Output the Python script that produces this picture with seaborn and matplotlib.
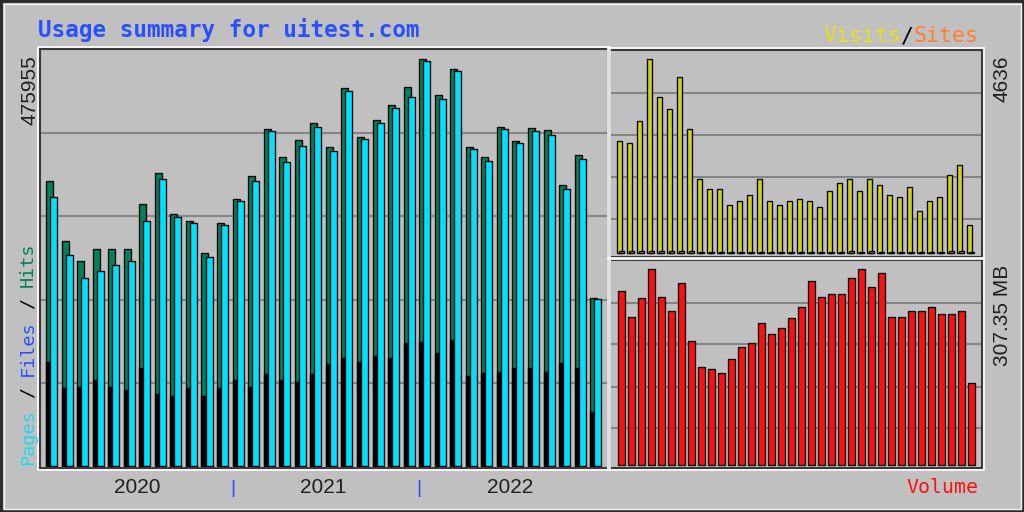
import numpy as np
import pandas as pd
import seaborn as sns
import matplotlib.pyplot as plt
from matplotlib.patches import Rectangle

# %%
# monthly data, Jan 2020 .. Dec 2022
years = ["2020", "2021", "2022"]
months = pd.period_range("2020-01", "2022-12", freq="M").astype(str)

hits = [326100, 257800, 234900, 248300, 248300, 248000, 299400, 335600, 288000, 280300, 244000, 278400,
        305500, 331800, 385600, 353500, 373000, 392400, 365300, 432100, 376800, 395900, 413000, 434000,
        465700, 424500, 454200, 365300, 353900, 388200, 372200, 386400, 384400, 321500, 355800, 191900]
pages = [308100, 241400, 214700, 223400, 230000, 234900, 280600, 328400, 285200, 277700, 239500, 275700,
         303200, 326100, 383300, 347800, 366100, 387800, 360400, 429400, 374100, 392800, 409200, 422500,
         463700, 420200, 451900, 362700, 349300, 385600, 369200, 383600, 378700, 316900, 351200, 190800]
files = [119000, 89200, 90700, 98400, 90700, 86900, 111800, 82400, 80100, 88900, 80100, 88900,
         98400, 90700, 105300, 98400, 96400, 105300, 116700, 123200, 119300, 125900, 123200, 140400,
         142200, 128900, 144200, 103000, 106100, 107900, 111800, 111800, 107900, 117500, 111800, 62100]
visits = [2581, 2535, 3039, 4453, 3589, 3314, 4048, 2856, 1710, 1481, 1481, 1114,
          1206, 1343, 1710, 1206, 1114, 1206, 1251, 1206, 1068, 1435, 1618, 1710,
          1435, 1710, 1572, 1343, 1297, 1527, 976, 1206, 1297, 1802, 2031, 656]
sites = [45, 44, 46, 48, 45, 44, 47, 42, 40, 38, 39, 37,
         38, 39, 41, 38, 37, 38, 39, 38, 37, 40, 41, 42,
         41, 42, 41, 40, 39, 41, 36, 38, 39, 42, 44, 35]
volume = [262.6, 223.4, 251.1, 295.3, 253.6, 232.5, 274.7, 186.8, 148.1, 144.6, 139.1, 159.7,
          178.2, 184.3, 214.4, 196.9, 206.0, 221.0, 238.5, 277.7, 253.6, 257.2, 257.2, 281.3,
          295.3, 268.6, 289.7, 223.4, 223.4, 232.5, 232.5, 238.5, 227.0, 227.0, 232.5, 124.0]

max_hits = 475955
max_visits = 4636
max_volume = 307.35

# %%
W, H = 1024, 512
BG = "#c0c0c0"
fig = plt.figure(figsize=(W / 100, H / 100), dpi=100, facecolor=BG)


def box(l, t, r, b):
    return [l / W, 1 - b / H, (r - l) / W, (b - t) / H]


def panel(l, t, r, b):
    # white bevel just outside the dark frame
    fig.add_artist(Rectangle(((l - 2) / W, 1 - (b + 2) / H), (r - l + 4) / W, (b - t + 4) / H,
                             transform=fig.transFigure, fill=False, ec="white", lw=1.2))
    ax = fig.add_axes(box(l, t, r, b))
    return ax


def style(ax, grid):
    ax.set_facecolor(BG)
    for s in ax.spines.values():
        s.set_color("#3a3a3a")
        s.set_linewidth(1.5)
    ax.set_xticks([])
    ax.set_yticks(grid)
    ax.tick_params(length=0, labelleft=False, labelbottom=False)
    ax.grid(axis="y", color="#858585", lw=1.5)
    ax.set_axisbelow(True)
    ax.set_xlabel("")
    ax.set_ylabel("")


x = np.arange(len(months))
bar = dict(native_scale=True, errorbar=None, saturation=1, edgecolor="black", linewidth=0.95)

# main panel: hits / files / pages
ax = panel(40, 49, 608, 468)
sns.barplot(x=x - 0.13, y=hits, width=0.45, color="#00805c", ax=ax, **bar)
sns.barplot(x=x - 0.13, y=files, width=0.45, color="black", ax=ax, **bar)
sns.barplot(x=x + 0.13, y=pages, width=0.45, color="#00e0ff", ax=ax, **bar)
ax.set_xlim(-0.74, 35.79)
ax.set_ylim(-2288, 477100)
style(ax, [0.2 * max_hits, 0.4 * max_hits, 0.6 * max_hits, 0.8 * max_hits])

for k, yr in enumerate(years):
    ax.annotate(yr, xy=(12 * k + 5.5, 19), xycoords=("data", "figure pixels"), ha="center",
                va="baseline", fontsize=15, family="Liberation Sans", color="#202020")
for k in (1, 2):
    ax.annotate("|", xy=(12 * k - 0.35, 19), xycoords=("data", "figure pixels"), ha="center",
                va="baseline", fontsize=14, family="Liberation Sans", color="#2850ff")

# visits / sites panel
ax2 = panel(610, 50, 982, 257)
sns.barplot(x=x - 0.1, y=visits, width=0.5, color="#d0d020", ax=ax2, **bar)
sns.barplot(x=x + 0.1, y=sites, width=0.5, color="#ff8000", ax=ax2, **bar)
ax2.set_xlim(-1.05, 36.15)
ax2.set_ylim(-85, 4659)
style(ax2, [786, 1756, 2711, 3681])

# volume panel
ax3 = panel(610, 260, 982, 468)
sns.barplot(x=x + 0.1, y=volume, width=0.65, color="#ff1010", ax=ax3, **bar)
ax3.set_xlim(-1.05, 36.15)
ax3.set_ylim(-4.5, 308.9)
style(ax3, [55.3, 118.0, 181.8, 244.5])


# %%
def tx(px, py, s, **kw):
    fig.text(px / W, 1 - py / H, s, **kw)


mono = "DejaVu Sans Mono"
ADV = 0.60205  # advance of one DejaVu Sans Mono glyph, in em


def cw(size):
    return ADV * size * 100 / 72


tx(38, 36.5, "Usage summary for uitest.com", family=mono, weight="bold", fontsize=16.3,
   color="#2850ff", va="baseline", ha="left")

# multi coloured legends, pieces laid out by character count
for n, s, c in [(0, "Visits", "#e0e020"), (6, "/", "black"), (7, "Sites", "#ff8030")]:
    tx(823 + n * cw(15.5), 42.5, s, family=mono, fontsize=15.5, color=c, va="baseline", ha="left")
tx(978, 493, "Volume", family=mono, fontsize=14.3, color="#ff1010", va="baseline", ha="right")

for n, s, c in [(0, "Pages", "#20d8f0"), (6, "/", "black"), (8, "Files", "#2850ff"),
                (14, "/", "black"), (16, "Hits", "#008060")]:
    tx(33, 465 - n * cw(13.3), s, family=mono, fontsize=13.3, color=c, rotation=90,
       rotation_mode="anchor", ha="left", va="baseline")

num = dict(family="Liberation Sans", fontsize=15, color="#202020", rotation=90,
           rotation_mode="anchor", ha="right", va="baseline")
tx(35, 55, str(max_hits), **num)
tx(1008, 55, str(max_visits), **num)
tx(1008, 265, f"{max_volume:.2f} MB", **num)

# outer frame
fig.add_artist(Rectangle((0, 0), 1, 1, transform=fig.transFigure, fill=False, ec="#2a2a2a", lw=3.5))
fig.add_artist(Rectangle((3.5 / W, 3.5 / H), 1 - 7 / W, 1 - 7 / H, transform=fig.transFigure,
                         fill=False, ec="#f0f0f0", lw=1))

fig.savefig("out.png", dpi=100, facecolor=BG)
